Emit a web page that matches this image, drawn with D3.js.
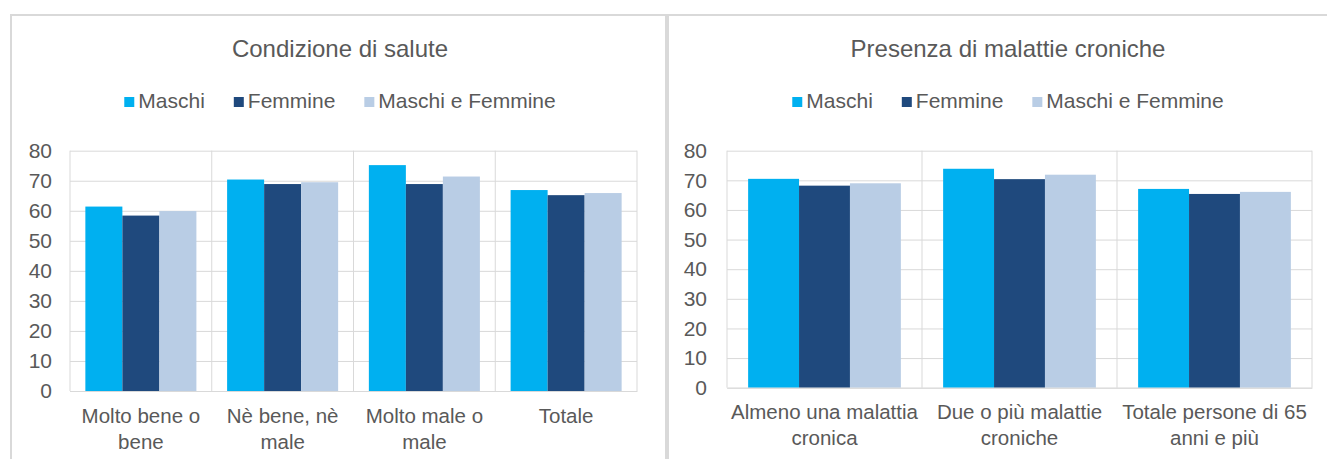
<!DOCTYPE html>
<html>
<head>
<meta charset="utf-8">
<script src="https://cdn.jsdelivr.net/npm/d3@7"></script>
<style>
  body { margin: 0; background: #fff; }
  text { font-family: "Liberation Sans", Arial, sans-serif; fill: #595959; }
</style>
</head>
<body>
<div id="graph"></div>
<script>
// Serie e categorie
var serie = ["Maschi", "Femmine", "Maschi e Femmine"];
var colori = ["#00b0f0", "#1f497d", "#b9cde5"];
var tickY = [0, 10, 20, 30, 40, 50, 60, 70, 80];

// Grafico 1: condizione di salute
var titolo1 = "Condizione di salute";
var categorie1 = ["Molto bene o bene", "Nè bene, nè male", "Molto male o male", "Totale"];
var maschi1 = [61.4, 70.4, 75.2, 66.9];
var femmine1 = [58.4, 68.9, 68.9, 65.2];
var totale1 = [59.9, 69.5, 71.4, 65.9];

// Grafico 2: presenza di malattie croniche
var titolo2 = "Presenza di malattie croniche";
var categorie2 = ["Almeno una malattia cronica", "Due o più malattie croniche", "Totale persone di 65 anni e più"];
var maschi2 = [70.5, 73.9, 67.1];
var femmine2 = [68.2, 70.4, 65.4];
var totale2 = [69.0, 71.9, 66.1];

var svg = d3.select("#graph").append("svg")
    .attr("width", 1327)
    .attr("height", 459);

// cornici
svg.append("rect").attr("x", 11).attr("y", 15).attr("width", 655).attr("height", 500)
    .attr("fill", "none").attr("stroke", "#d9d9d9").attr("stroke-width", 2);
svg.append("rect").attr("x", 668).attr("y", 15).attr("width", 700).attr("height", 500)
    .attr("fill", "none").attr("stroke", "#d9d9d9").attr("stroke-width", 2);

function disegna(opt) {
  var g = svg.append("g");
  var larg = opt.x1 - opt.x0, alt = opt.y1 - opt.y0;

  // titolo
  g.append("text")
      .attr("x", opt.centro).attr("y", 57)
      .attr("text-anchor", "middle")
      .style("font-size", "24px")
      .text(opt.titolo);

  // legenda
  var leg = g.append("g");
  var pos = 0;
  serie.forEach(function(s, i) {
    var it = leg.append("g").attr("transform", "translate(" + pos + ",0)");
    it.append("rect").attr("x", 0).attr("y", 97).attr("width", 10).attr("height", 10).attr("fill", colori[i]);
    var t = it.append("text").attr("x", 14).attr("y", 108).style("font-size", "21px").text(s);
    pos += 14 + t.node().getComputedTextLength() + 29;
  });
  pos -= 29;
  leg.attr("transform", "translate(" + (opt.centro - pos / 2) + ",0)");

  var plot = g.append("g").attr("transform", "translate(" + opt.x0 + "," + opt.y0 + ")");

  var y = d3.scaleLinear().domain([0, 80]).range([alt, 0]);
  var x = d3.scaleBand().domain(opt.categorie).range([0, larg]).padding(0);
  var bw = x.bandwidth() / 3.83;
  var xs = d3.scaleBand().domain(serie)
      .range([(x.bandwidth() - 3 * bw) / 2, (x.bandwidth() + 3 * bw) / 2]).padding(0);

  // griglia orizzontale
  plot.append("g")
      .call(d3.axisLeft(y).tickValues(tickY).tickSize(-larg).tickFormat(""))
      .call(function(a) { a.select(".domain").remove(); })
      .selectAll("line").attr("stroke", "#d9d9d9");

  // griglia verticale (separatori categorie)
  var bordi = opt.categorie.map(function(c) { return x(c); }).concat([larg]);
  plot.selectAll(".vgrid").data(bordi).enter().append("line")
      .attr("x1", function(d) { return d; }).attr("x2", function(d) { return d; })
      .attr("y1", 0).attr("y2", alt)
      .attr("stroke", "#d9d9d9");

  // asse Y
  plot.append("g")
      .call(d3.axisLeft(y).tickValues(tickY).tickSize(0).tickPadding(opt.pad))
      .call(function(a) { a.select(".domain").remove(); })
      .selectAll("text")
      .style("font-size", "21px").attr("fill", "#595959");

  // barre
  var righe = opt.categorie.map(function(c, i) {
    return { cat: c, valori: [opt.maschi[i], opt.femmine[i], opt.totale[i]] };
  });
  var gruppi = plot.selectAll(".gruppo").data(righe).enter().append("g")
      .attr("transform", function(d) { return "translate(" + x(d.cat) + ",0)"; });
  gruppi.selectAll("rect")
      .data(function(d) { return d.valori.map(function(v, i) { return { s: serie[i], v: v, col: colori[i] }; }); })
      .enter().append("rect")
      .attr("x", function(d) { return xs(d.s); })
      .attr("width", xs.bandwidth())
      .attr("y", function(d) { return y(d.v); })
      .attr("height", function(d) { return alt - y(d.v); })
      .attr("fill", function(d) { return d.col; });

  // asse X con etichette a capo
  var ax = plot.append("g")
      .attr("transform", "translate(0," + alt + ")")
      .call(d3.axisBottom(x).tickSize(0).tickPadding(0));
  ax.select(".domain").attr("stroke", "#d9d9d9");
  ax.selectAll("text")
      .style("font-size", "20.5px").attr("fill", "#595959")
      .attr("y", 0).attr("dy", null)
      .each(function(d) {
        var el = d3.select(this), parole = d.split(" "), righe = [], riga = [];
        el.text(null);
        var tsp = el.append("tspan");
        parole.forEach(function(p) {
          riga.push(p);
          tsp.text(riga.join(" "));
          if (tsp.node().getComputedTextLength() > x.bandwidth() - 4 && riga.length > 1) {
            riga.pop();
            righe.push(riga.join(" "));
            riga = [p];
          }
        });
        righe.push(riga.join(" "));
        el.text(null);
        righe.forEach(function(r, k) {
          el.append("tspan").attr("x", 0).attr("y", opt.lab + k * 25.5).text(r);
        });
      });
}

disegna({ titolo: titolo1, categorie: categorie1, maschi: maschi1, femmine: femmine1, totale: totale1,
  x0: 70, x1: 637, y0: 150.7, y1: 391, centro: 340, pad: 18, lab: 32 });
disegna({ titolo: titolo2, categorie: categorie2, maschi: maschi2, femmine: femmine2, totale: totale2,
  x0: 727, x1: 1312, y0: 150.7, y1: 387.7, centro: 1008, pad: 20, lab: 31.6 });
</script>
</body>
</html>
